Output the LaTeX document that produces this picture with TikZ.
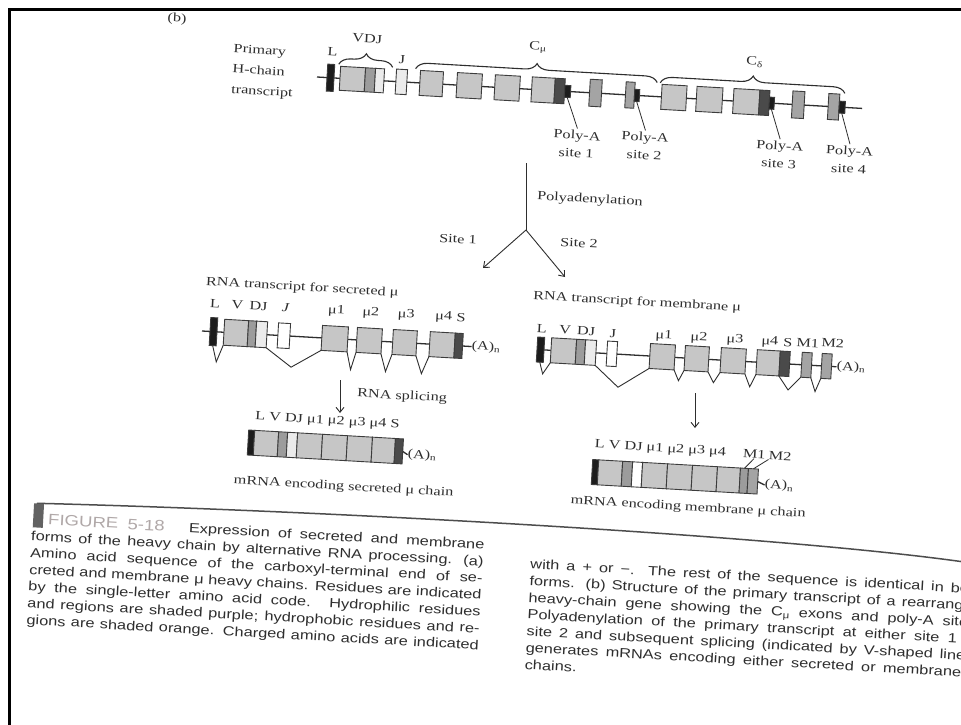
\documentclass[tikz,border=0pt]{standalone}
\usepackage{fontspec}
\setmainfont{Liberation Serif}[FakeStretch=1.3]
\newfontfamily\capfont{Liberation Sans}[FakeStretch=1.24]
\usetikzlibrary{decorations.pathreplacing,arrows.meta}
\definecolor{ink}{HTML}{2E2E2E}
\definecolor{exline}{HTML}{3C3C3C}
\definecolor{lfill}{HTML}{C6C6C6}
\definecolor{dfill}{HTML}{9C9C9C}
\definecolor{jfill}{HTML}{EBEBEB}
\definecolor{sfill}{HTML}{4A4A4A}
\definecolor{mfill}{HTML}{A4A4A4}
\definecolor{pfill}{HTML}{1C1C1C}
\definecolor{figgray}{HTML}{B0A8A8}
\begin{document}
\begin{tikzpicture}[x=1pt,y=-1pt,
  bb/.style={draw=ink, line width=1.3pt},
  box/.style 2 args={draw=exline, line width=0.9pt, inner sep=0pt, outer sep=0pt, minimum width=#1, minimum height=#2, anchor=west, transform shape},
  lab/.style={font=\fontsize{12.5}{18}\selectfont, text=ink, inner sep=0pt, transform shape},
  brc/.style={draw=ink, line width=1.1pt, decorate, decoration={brace, amplitude=12pt}},
  spl/.style={draw=ink, line width=0.9pt},
  lead/.style={draw=ink, line width=0.8pt},
  arr/.style={draw=ink, line width=0.9pt, -{Straight Barb[length=5pt,width=8pt]}},
  con/.style={draw=ink, line width=0.9pt},
  captxt/.style={font=\capfont\fontsize{13.2}{15}\selectfont, text=ink, inner sep=0pt, anchor=base west, transform shape},
  frameline/.style={draw=black, line width=3pt},
]
\useasboundingbox (0,0) rectangle (961,725);
\clip (0,0) rectangle (961,725);
\fill[white] (0,0) rectangle (961,725);

% frame
\coordinate (f1) at (9.5,10);
\coordinate (f2) at (961,10);
\coordinate (f3) at (9.5,725);
\draw[frameline] (f2) -- (f1) -- (f3);

\node[lab,rotate=-3.2] (bmark) at (177,19) {(b)};

% ---------- Row 1: primary transcript ----------
\begin{scope}[shift={(317,77)},rotate=-3.3]
\coordinate (r1s) at (0,0); \coordinate (r1e) at (546,0);
\draw[bb] (r1s) -- (r1e);
\node[box={7}{27},fill=pfill] (r1L) at (10,0) {};
\node[box={25}{24},fill=lfill] (r1V) at (23,0) {};
\node[box={10}{24},fill=dfill] (r1D) at (48,0) {};
\node[box={9}{24},fill=jfill] (r1J) at (58,0) {};
\node[box={11}{25},fill=jfill] (r1Jx) at (79,0) {};
\node[box={23}{25},fill=lfill] (r1m1) at (103,0) {};
\node[box={25}{25},fill=lfill] (r1m2) at (140,0) {};
\node[box={25}{25},fill=lfill] (r1m3) at (178,0) {};
\node[box={23}{25},fill=lfill] (r1m4) at (215,0) {};
\node[box={10}{25},fill=sfill] (r1mS) at (238,0) {};
\node[box={6}{12},fill=pfill] (r1p1) at (248,0) {};
\node[box={12}{27},fill=mfill] (r1mM1) at (273,0) {};
\node[box={9}{26},fill=mfill] (r1mM2) at (309,0) {};
\node[box={5}{12},fill=pfill] (r1p2) at (318,0) {};
\node[box={25}{25},fill=lfill] (r1d1) at (345,0) {};
\node[box={26}{25},fill=lfill] (r1d2) at (380,0) {};
\node[box={26}{25},fill=lfill] (r1d3) at (417,0) {};
\node[box={10}{25},fill=sfill] (r1dS) at (443,0) {};
\node[box={5}{12},fill=pfill] (r1p3) at (453,0) {};
\node[box={12}{27},fill=mfill] (r1dM1) at (476,0) {};
\node[box={11}{26},fill=mfill] (r1dM2) at (512,0) {};
\node[box={6}{12},fill=pfill] (r1p4) at (523,0) {};
\draw[brc] (21,-14) -- (75,-14);
\draw[brc] (98,-14) -- (340,-14);
\draw[brc] (343,-14) -- (528,-14);
\node[lab] (r1tL) at (14,-26) {L};
\node[lab] (r1tVDJ) at (48,-41) {VDJ};
\node[lab] (r1tJ) at (84,-22) {J};
\node[lab] (r1tCm) at (219,-42) {C\textsubscript{μ}};
\node[lab] (r1tCd) at (436,-40) {C\textsubscript{δ}};
\node[lab,align=left,anchor=west,font=\fontsize{12.5}{20.5}\selectfont] (r1title) at (-85,-2) {Primary\\H-chain\\transcript};
\node[lab,align=center] (r1s1) at (263,52) {Poly-A\\site 1};
\node[lab,align=center] (r1s2) at (331,50) {Poly-A\\site 2};
\node[lab,align=center] (r1s3) at (466,51) {Poly-A\\site 3};
\node[lab,align=center] (r1s4) at (536,52) {Poly-A\\site 4};
\draw[lead] (r1p1.south) -- ([yshift=2pt]r1s1.north);
\draw[lead] (r1p2.south) -- ([yshift=2pt]r1s2.north);
\draw[lead] (r1p3.south) -- ([yshift=2pt]r1s3.north);
\draw[lead] (r1p4.south) -- ([yshift=2pt]r1s4.north);
\end{scope}

% ---------- polyadenylation branch ----------
\coordinate (pt) at (526,163);
\coordinate (pj) at (526,230);
\coordinate (pa1) at (483,268);
\coordinate (pa2) at (565,277);
\draw[con] (pt) -- (pj);
\draw[arr] (pj) -- (pa1);
\draw[arr] (pj) -- (pa2);
\node[lab,rotate=-3,anchor=west] (tpoly) at (537,197) {Polyadenylation};
\node[lab,rotate=-3] (tsite1) at (458,239) {Site 1};
\node[lab,rotate=-3] (tsite2) at (579,243) {Site 2};

% ---------- Row 2 left: secreted transcript ----------
\begin{scope}[shift={(202,331)},rotate=-3.3]
\coordinate (r2s) at (0,0); \coordinate (r2e) at (270,0);
\draw[bb] (r2s) -- (r2e);
\node[box={7}{28},fill=pfill] (r2L) at (8,0) {};
\node[box={24}{26},fill=lfill] (r2V) at (22,0) {};
\node[box={8}{26},fill=dfill] (r2D) at (46,0) {};
\node[box={11}{26},fill=jfill] (r2J) at (54,0) {};
\node[box={12}{25},fill=white] (r2Jx) at (76,0) {};
\node[box={26}{25},fill=lfill] (r2m1) at (120,0) {};
\node[box={25}{25},fill=lfill] (r2m2) at (155,0) {};
\node[box={24}{25},fill=lfill] (r2m3) at (191,0) {};
\node[box={25}{25},fill=lfill] (r2m4) at (228,0) {};
\node[box={8}{25},fill=sfill] (r2S) at (253,0) {};
\node[lab,anchor=west] (r2A) at (r2e) {(A)\textsubscript{n}};
\node[lab] (r2tL) at (11.5,-28) {L};
\node[lab] (r2tV) at (34,-28) {V};
\node[lab] (r2tDJ) at (55,-28) {DJ};
\node[lab] (r2tJ) at (82,-28) {\itshape J};
\node[lab] (r2tm1) at (133,-28) {μ1};
\node[lab] (r2tm2) at (167.5,-28) {μ2};
\node[lab] (r2tm3) at (203,-28) {μ3};
\node[lab] (r2tm4) at (240.5,-28) {μ4};
\node[lab] (r2tS) at (258,-28) {S};
\node[lab,anchor=west] (r2title) at (1,-49) {RNA transcript for secreted μ};
\draw[spl] (r2L.south) -- (16,30) -- (r2V.south west);
\draw[spl] (r2J.south east) -- (91,31) -- (r2m1.south west);
\draw[spl] (r2m1.south east) -- (150.5,30) -- (r2m2.south west);
\draw[spl] (r2m2.south east) -- (185.5,30) -- (r2m3.south west);
\draw[spl] (r2m3.south east) -- (221.5,30) -- (r2m4.south west);
\end{scope}

% ---------- Row 2 right: membrane transcript ----------
\begin{scope}[shift={(537,349.5)},rotate=-3.3]
\coordinate (r3s) at (0,0); \coordinate (r3e) at (300,0);
\draw[bb] (r3s) -- (r3e);
\node[box={7}{25},fill=pfill] (r3L) at (0,0) {};
\node[box={25}{25},fill=lfill] (r3V) at (14,0) {};
\node[box={9}{25},fill=dfill] (r3D) at (39,0) {};
\node[box={11}{25},fill=jfill] (r3J) at (48,0) {};
\node[box={10}{25},fill=white] (r3Jx) at (70,0) {};
\node[box={25}{25},fill=lfill] (r3m1) at (113,0) {};
\node[box={24}{25},fill=lfill] (r3m2) at (148,0) {};
\node[box={25}{25},fill=lfill] (r3m3) at (184,0) {};
\node[box={23}{25},fill=lfill] (r3m4) at (220,0) {};
\node[box={10}{25},fill=sfill] (r3S) at (243,0) {};
\node[box={10}{25},fill=mfill] (r3M1) at (265,0) {};
\node[box={10}{25},fill=mfill] (r3M2) at (285,0) {};
\node[lab,anchor=west] (r3A) at (r3e) {(A)\textsubscript{n}};
\node[lab] (r3tL) at (3.5,-21) {L};
\node[lab] (r3tV) at (27,-21) {V};
\node[lab] (r3tDJ) at (48,-21) {DJ};
\node[lab] (r3tJ) at (75,-20) {J};
\node[lab] (r3tm1) at (126,-21) {μ1};
\node[lab] (r3tm2) at (161,-21) {μ2};
\node[lab] (r3tm3) at (197,-21) {μ3};
\node[lab] (r3tm4) at (232,-21) {μ4};
\node[lab] (r3tS) at (250,-21) {S};
\node[lab] (r3tM1) at (270,-22) {M1};
\node[lab] (r3tM2) at (295,-23) {M2};
\node[lab,anchor=west] (r3title) at (-7,-53) {RNA transcript for membrane μ};
\draw[spl] (r3L.south) -- (7,24) -- (r3V.south west);
\draw[spl] (r3J.south east) -- (83,33) -- (r3m1.south west);
\draw[spl] (r3m1.south east) -- (143,23) -- (r3m2.south west);
\draw[spl] (r3m2.south east) -- (178,23) -- (r3m3.south west);
\draw[spl] (r3m3.south east) -- (214.5,25) -- (r3m4.south west);
\draw[spl] (r3m4.south east) -- (253,26) -- (r3M1.south west);
\draw[spl] (r3M1.south east) -- (280,26) -- (r3M2.south west);
\end{scope}

% ---------- arrows to mRNAs ----------
\coordinate (sp1) at (340,380);
\coordinate (sp2) at (340,413);
\draw[arr] (sp1) -- (sp2);
\node[lab,rotate=-3,anchor=west] (tsplice) at (357,394) {RNA splicing};
\coordinate (mb1) at (695,393);
\coordinate (mb2) at (695,428);
\draw[arr] (mb1) -- (mb2);

% ---------- Row 3 left: secreted mRNA ----------
\begin{scope}[shift={(248,442.5)},rotate=-3.3]
\node[box={6}{25},fill=pfill] (r4L) at (0,0) {};
\node[box={24}{25},fill=lfill] (r4V) at (6,0) {};
\node[box={9}{25},fill=dfill] (r4D) at (30,0) {};
\node[box={10}{25},fill=jfill] (r4J) at (39,0) {};
\node[box={25}{25},fill=lfill] (r4m1) at (49,0) {};
\node[box={25}{25},fill=lfill] (r4m2) at (74,0) {};
\node[box={25}{25},fill=lfill] (r4m3) at (99,0) {};
\node[box={23}{25},fill=lfill] (r4m4) at (124,0) {};
\node[box={8}{25},fill=sfill] (r4S) at (147,0) {};
\coordinate (r4e) at (160,3);
\draw[bb] (r4S.east) -- (r4e);
\node[lab,anchor=west] (r4A) at (r4e) {(A)\textsubscript{n}};
\node[lab] (r4lab) at (78,-26) {L V DJ μ1 μ2 μ3 μ4 S};
\node[lab] (r4cap) at (98,39) {mRNA encoding secreted μ chain};
\end{scope}

% ---------- Row 3 right: membrane mRNA ----------
\begin{scope}[shift={(592,472)},rotate=-3.3]
\node[box={6}{25},fill=pfill] (r5L) at (0,0) {};
\node[box={24}{25},fill=lfill] (r5V) at (6,0) {};
\node[box={10}{25},fill=dfill] (r5D) at (30,0) {};
\node[box={10}{25},fill=white] (r5J) at (40,0) {};
\node[box={25}{25},fill=lfill] (r5m1) at (50,0) {};
\node[box={25}{25},fill=lfill] (r5m2) at (75,0) {};
\node[box={25}{25},fill=lfill] (r5m3) at (100,0) {};
\node[box={23}{25},fill=lfill] (r5m4) at (125,0) {};
\node[box={8}{25},fill=dfill] (r5M1) at (148,0) {};
\node[box={10}{25},fill=mfill] (r5M2) at (156,0) {};
\coordinate (r5e) at (173,3);
\draw[bb] (r5M2.east) -- (r5e);
\node[lab,anchor=west] (r5A) at (r5e) {(A)\textsubscript{n}};
\node[lab,anchor=west] (r5lab) at (1,-27) {L V DJ μ1 μ2 μ3 μ4};
\node[lab] (r5tM1) at (161,-27) {M1};
\node[lab] (r5tM2) at (187,-27) {M2};
\draw[lead] (r5tM1.south) -- (r5M1.north);
\draw[lead] (r5tM2.south west) -- (r5M2.north);
\node[lab] (r5cap) at (98,30) {mRNA encoding membrane μ chain};
\end{scope}

% ---------- caption ----------
\begin{scope}[shift={(31,537)},rotate=-3.2]
\coordinate (sepL) at (4,-34);
\coordinate (sepR) at (935,-27);
\draw[draw=ink!85, line width=1.5pt] (sepL) .. controls (300,-43) and (750,-43) .. (sepR);
\node[fill=ink!75, minimum width=10pt, minimum height=24pt, inner sep=0pt, anchor=north west, transform shape] (capmark) at (1,-34) {};
\node[captxt] (cl1) at (16,-13.2) {\makebox[437pt][s]{{\color{figgray}\fontsize{15}{15}\selectfont FIGURE 5-18}\hspace{16pt} Expression of secreted and membrane}};
\node[captxt] (cl2) at (0,3.6) {\makebox[453pt][s]{forms of the heavy chain by alternative RNA processing. (a)}};
\node[captxt] (cl3) at (0,20.4) {\makebox[453pt][s]{Amino acid sequence of the carboxyl-terminal end of se-}};
\node[captxt] (cl4) at (0,37.2) {\makebox[453pt][s]{creted and membrane μ heavy chains. Residues are indicated}};
\node[captxt] (cl5) at (0,54) {\makebox[453pt][s]{by the single-letter amino acid code. Hydrophilic residues}};
\node[captxt] (cl6) at (0,70.8) {\makebox[453pt][s]{and regions are shaded purple; hydrophobic residues and re-}};
\node[captxt] (cl7) at (0,87.6) {\makebox[453pt][s]{gions are shaded orange. Charged amino acids are indicated}};
\node[captxt] (cr1) at (500,3.6) {\makebox[453pt][s]{with a + or −. The rest of the sequence is identical in both}};
\node[captxt] (cr2) at (500,20.4) {\makebox[453pt][s]{forms. (b) Structure of the primary transcript of a rearranged}};
\node[captxt] (cr3) at (500,37.2) {\makebox[453pt][s]{heavy-chain gene showing the C\textsubscript{μ} exons and poly-A sites.}};
\node[captxt] (cr4) at (500,54) {\makebox[453pt][s]{Polyadenylation of the primary transcript at either site 1 or}};
\node[captxt] (cr5) at (500,70.8) {\makebox[453pt][s]{site 2 and subsequent splicing (indicated by V-shaped lines)}};
\node[captxt] (cr6) at (500,87.6) {\makebox[453pt][s]{generates mRNAs encoding either secreted or membrane μ}};
\node[captxt] (cr7) at (500,104.4) {chains.};
\end{scope}
\end{tikzpicture}
\end{document}
